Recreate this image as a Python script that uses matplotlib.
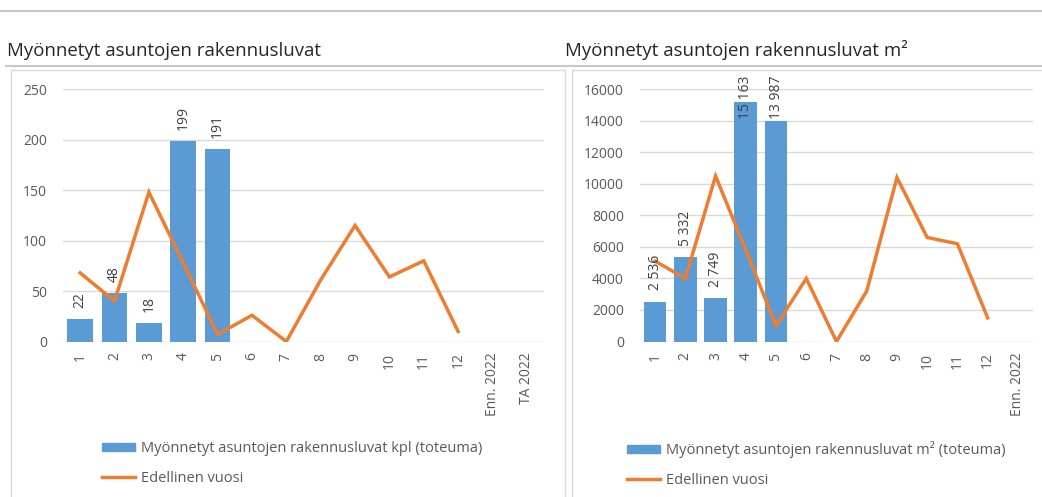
import matplotlib
matplotlib.use('Agg')
import matplotlib.pyplot as plt
from matplotlib.patches import Rectangle, Patch
from matplotlib.lines import Line2D

plt.rcParams['font.family'] = ['Open Sans', 'DejaVu Sans']

# Data
categories_count = ['1', '2', '3', '4', '5', '6', '7', '8', '9', '10', '11', '12', 'Enn. 2022', 'TA 2022']
categories_m2 = ['1', '2', '3', '4', '5', '6', '7', '8', '9', '10', '11', '12', 'Enn. 2022']
permits_count = [22, 48, 18, 199, 191]
prev_year_count = [68, 40, 148, 78, 7, 26, 0, 61, 115, 64, 80, 10]
permits_m2 = [2536, 5332, 2749, 15163, 13987]
prev_year_m2 = [5100, 4000, 10500, 5800, 1000, 4000, 0, 3200, 10400, 6600, 6200, 1500]

BAR = '#5B9BD5'
LINE = '#ED7D31'
GRID = '#D9D9D9'
TXT = '#595959'

W, H = 1042, 497
fig = plt.figure(figsize=(W / 100, H / 100), dpi=100)


def fx(x):
    return x / W


def fy(y):
    return 1 - y / H


# page decorations: separator lines, chart boxes
fig.add_artist(Line2D([fx(0), fx(1042)], [fy(11), fy(11)], color='#C8C8C8', lw=1.5, transform=fig.transFigure))
fig.add_artist(Line2D([fx(6), fx(1042)], [fy(66), fy(66)], color='#C8C8C8', lw=1.5, transform=fig.transFigure))
fig.add_artist(Rectangle((fx(10.5), fy(520)), fx(554), 450 / H, fill=False, ec=GRID, lw=1, transform=fig.transFigure))
fig.add_artist(Rectangle((fx(572), fy(520)), fx(500), 450 / H, fill=False, ec=GRID, lw=1, transform=fig.transFigure))

fig.text(fx(7), fy(56), 'Myönnetyt asuntojen rakennusluvat', fontsize=13.4, color='#262626', va='baseline')
fig.text(fx(565), fy(56), 'Myönnetyt asuntojen rakennusluvat m²', fontsize=13.4, color='#262626', va='baseline')


def fmt(v):
    return f'{v:,}'.replace(',', ' ')


def draw(ax, cats, bars, line, ymax, ystep, bar_label, legend_x):
    n = len(cats)
    ax.bar(range(len(bars)), bars, width=0.75, color=BAR, zorder=2)
    ax.plot(range(len(line)), line, color=LINE, lw=2.5, zorder=3, solid_joinstyle='miter')
    ax.set_xlim(-0.5, n - 0.5)
    ax.set_ylim(0, ymax)
    ax.set_yticks(range(0, ymax + 1, ystep))
    ax.set_xticks(range(n))
    ax.set_xticklabels(cats, rotation=90)
    ax.tick_params(axis='both', length=0, labelsize=10, labelcolor=TXT)
    ax.tick_params(axis='y', pad=11.5)
    ax.tick_params(axis='x', pad=8)
    for s in ax.spines.values():
        s.set_visible(False)
    ax.grid(axis='y', color=GRID, lw=1, zorder=0)
    ax.set_axisbelow(True)
    for i, v in enumerate(bars):
        if v > 0.8 * ymax:
            ax.annotate(fmt(v), (i, 1), xycoords=('data', 'axes fraction'), xytext=(0, 10),
                        textcoords='offset points', rotation=90, ha='center', va='top',
                        fontsize=10, color='#404040')
        else:
            ax.annotate(fmt(v), (i, v), xytext=(0, 8), textcoords='offset points',
                        rotation=90, ha='center', va='bottom', fontsize=10, color='#404040')
    handles = [Patch(color=BAR, label=bar_label),
               Line2D([], [], color=LINE, lw=2.5, label='Edellinen vuosi')]
    leg = ax.legend(handles=handles, loc='upper left', bbox_to_anchor=(fx(legend_x), fy(441)),
                    bbox_transform=fig.transFigure, frameon=False, borderpad=0, borderaxespad=0,
                    handlelength=2.25, handleheight=0.5, handletextpad=0.4, labelspacing=1.0,
                    fontsize=10.5)
    for t in leg.get_texts():
        t.set_color(TXT)


bottom = fy(341.5)
height = 252.2 / H
ax1 = fig.add_axes([fx(63), bottom, fx(481), height])
draw(ax1, categories_count, permits_count, prev_year_count, 250, 50,
     'Myönnetyt asuntojen rakennusluvat kpl (toteuma)', 102)
ax2 = fig.add_axes([fx(640), bottom, fx(393), height])
draw(ax2, categories_m2, permits_m2, prev_year_m2, 16000, 2000,
     'Myönnetyt asuntojen rakennusluvat m² (toteuma)', 627)

fig.savefig('out.png', dpi=100)
